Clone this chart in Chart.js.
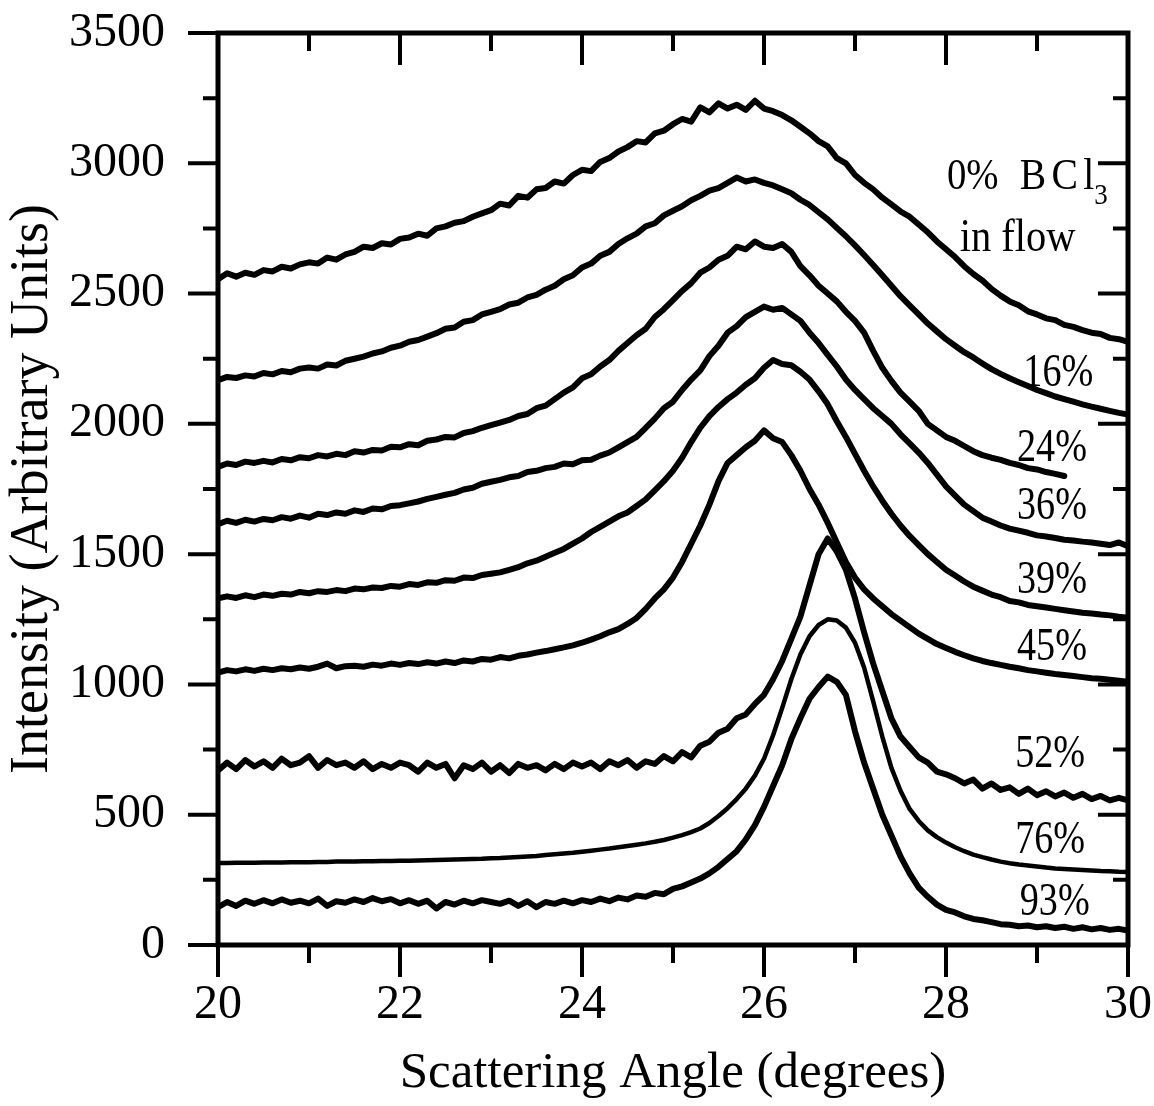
<!DOCTYPE html>
<html><head><meta charset="utf-8">
<script src="https://cdn.jsdelivr.net/npm/chart.js@4/dist/chart.umd.min.js"></script>
<style>html,body{margin:0;padding:0;background:#fff;}canvas{display:block;}</style>
</head><body>
<canvas id="c" width="1154" height="1106"></canvas>
<script>
const angles = [20.0,20.1,20.2,20.3,20.4,20.5,20.6,20.7,20.8,20.9,21.0,21.1,21.2,21.3,21.4,21.5,21.6,21.7,21.8,21.9,22.0,22.1,22.2,22.3,22.4,22.5,22.6,22.7,22.8,22.9,23.0,23.1,23.2,23.3,23.4,23.5,23.6,23.7,23.8,23.9,24.0,24.1,24.2,24.3,24.4,24.5,24.6,24.7,24.8,24.9,25.0,25.1,25.2,25.3,25.4,25.5,25.6,25.7,25.8,25.9,26.0,26.1,26.2,26.3,26.4,26.5,26.6,26.7,26.8,26.9,27.0,27.1,27.2,27.3,27.4,27.5,27.6,27.7,27.8,27.9,28.0,28.1,28.2,28.3,28.4,28.5,28.6,28.7,28.8,28.9,29.0,29.1,29.2,29.3,29.4,29.5,29.6,29.7,29.8,29.9,30.0];

const bcl0 = [2555,2578,2565,2580,2572,2590,2585,2603,2596,2612,2620,2615,2638,2630,2650,2660,2680,2675,2693,2688,2710,2715,2730,2722,2750,2758,2772,2778,2795,2808,2820,2845,2838,2875,2868,2900,2905,2930,2922,2955,2975,2970,3005,3020,3045,3062,3085,3080,3115,3125,3150,3170,3160,3215,3195,3230,3210,3225,3205,3240,3210,3200,3185,3165,3140,3115,3085,3065,3020,3000,2955,2925,2900,2868,2842,2815,2795,2765,2735,2700,2670,2640,2605,2575,2550,2518,2492,2470,2455,2432,2420,2405,2398,2380,2372,2360,2350,2345,2330,2325,2315];
const bcl16 = [2168,2180,2176,2186,2182,2195,2190,2203,2198,2212,2216,2212,2228,2224,2242,2250,2258,2270,2278,2292,2300,2315,2322,2335,2348,2365,2370,2392,2398,2420,2430,2440,2458,2465,2485,2495,2515,2530,2555,2570,2600,2615,2645,2660,2690,2712,2730,2758,2770,2800,2818,2835,2858,2875,2895,2905,2925,2945,2930,2938,2925,2915,2900,2885,2860,2840,2812,2785,2752,2720,2685,2648,2610,2570,2530,2490,2455,2420,2385,2355,2325,2300,2275,2255,2232,2210,2192,2175,2160,2145,2130,2118,2105,2095,2085,2075,2066,2058,2050,2042,2036];
const bcl24 = [1835,1848,1842,1855,1850,1858,1852,1865,1860,1872,1868,1880,1875,1885,1880,1895,1890,1900,1898,1912,1910,1922,1918,1935,1940,1950,1948,1965,1972,1985,1995,2005,2015,2030,2038,2060,2070,2095,2120,2140,2175,2190,2220,2245,2280,2310,2340,2365,2410,2440,2475,2510,2540,2580,2600,2630,2645,2680,2670,2700,2680,2675,2690,2660,2605,2570,2530,2500,2470,2430,2395,2350,2280,2215,2165,2120,2085,2050,2000,1975,1950,1935,1915,1895,1880,1870,1862,1850,1842,1830,1825,1815,1808,1800];
const bcl36 = [1615,1628,1620,1632,1625,1635,1630,1642,1636,1648,1640,1655,1650,1660,1655,1668,1662,1675,1672,1685,1688,1695,1702,1712,1720,1728,1735,1748,1755,1770,1778,1785,1795,1800,1815,1820,1830,1835,1848,1845,1860,1862,1878,1890,1910,1930,1950,1985,2020,2060,2085,2130,2170,2205,2260,2300,2350,2375,2410,2430,2450,2438,2445,2420,2395,2350,2310,2265,2220,2170,2130,2095,2060,2030,2000,1960,1925,1890,1850,1805,1760,1725,1690,1665,1640,1625,1610,1598,1590,1582,1572,1568,1562,1555,1552,1548,1545,1540,1535,1545,1530];
const bcl39 = [1330,1338,1332,1342,1335,1345,1340,1348,1345,1355,1350,1358,1355,1362,1358,1368,1365,1372,1370,1378,1375,1385,1382,1392,1390,1400,1398,1410,1408,1420,1425,1430,1440,1450,1465,1475,1490,1505,1520,1540,1560,1585,1605,1625,1645,1660,1685,1710,1745,1780,1820,1870,1930,1985,2030,2065,2095,2120,2150,2175,2215,2245,2230,2225,2200,2170,2125,2075,2010,1950,1885,1820,1760,1705,1655,1610,1570,1535,1500,1470,1440,1418,1395,1375,1360,1345,1335,1320,1315,1305,1300,1295,1290,1285,1280,1275,1272,1268,1265,1260,1256];
const bcl45 = [1045,1055,1050,1058,1052,1060,1055,1062,1058,1065,1060,1068,1080,1062,1070,1072,1068,1076,1072,1080,1075,1082,1078,1085,1080,1088,1082,1092,1088,1098,1095,1105,1100,1110,1115,1122,1128,1135,1142,1150,1160,1172,1185,1200,1212,1232,1255,1290,1330,1365,1410,1470,1540,1610,1690,1780,1850,1880,1910,1935,1975,1945,1930,1880,1820,1750,1690,1620,1545,1470,1410,1365,1330,1300,1270,1245,1220,1195,1175,1155,1140,1125,1112,1100,1090,1082,1075,1068,1062,1055,1050,1045,1040,1036,1032,1028,1024,1022,1018,1014,1010];
const bcl52 = [670,700,675,710,685,705,680,715,690,700,725,680,710,690,700,680,705,675,695,680,700,690,665,700,680,695,640,690,675,700,665,690,660,695,680,690,670,695,675,700,685,700,675,705,690,710,680,705,695,725,705,740,720,765,780,815,830,870,885,925,960,1020,1090,1175,1260,1380,1500,1560,1510,1440,1330,1200,1080,975,870,800,760,720,700,665,655,640,620,635,600,620,595,605,580,600,575,590,570,585,565,580,560,572,555,565,555];
const bcl76 = [315,315,316,316,316,317,317,317,318,318,318,319,319,320,320,320,321,321,322,322,323,323,324,325,326,327,328,329,330,331,333,334,336,338,340,342,345,348,351,354,358,362,366,370,375,380,385,390,396,403,412,422,433,447,468,495,525,560,600,650,715,805,910,1020,1115,1185,1228,1250,1245,1218,1160,1065,935,800,680,592,522,476,440,414,393,375,360,347,337,328,320,314,309,305,301,297,294,292,290,288,286,284,283,281,280];
const bcl93 = [145,165,150,170,158,172,160,175,162,170,160,178,150,168,162,175,165,180,168,176,160,172,158,170,140,165,155,170,160,172,165,158,170,150,168,145,165,158,170,160,172,165,178,168,182,175,190,185,200,195,215,225,240,255,275,300,330,360,405,460,530,610,690,790,870,945,990,1030,1010,960,820,700,600,500,420,340,275,220,185,155,135,125,110,100,95,88,80,78,72,75,68,72,65,70,62,68,60,65,58,62,55];

const seriesLabels = ['0% BCl3 in flow','16%','24%','36%','39%','45%','52%','76%','93%'];
const seriesValues = [bcl0,bcl16,bcl24,bcl36,bcl39,bcl45,bcl52,bcl76,bcl93];
const yTickLabels = [0,500,1000,1500,2000,2500,3000,3500];
const xTickLabels = [20,22,24,26,28,30];
const yTickMarks = [0,250,500,750,1000,1250,1500,1750,2000,2250,2500,2750,3000,3250,3500];
const xTickMarks = [20,21,22,23,24,25,26,27,28,29,30];

// curve annotations: [text, angle, intensity]
const annotations = [
  ['16%',28.85,2144],['24%',28.78,1856],['36%',28.78,1633],['39%',28.78,1352],
  ['45%',28.78,1095],['52%',28.76,684],['76%',28.76,353],['93%',28.81,115]
];

const FONT = "'Liberation Serif','Times New Roman',serif";

const framePlugin = {
  id:'frame',
  afterDatasetsDraw(chart){
    const {ctx, chartArea:a, scales:{x,y}} = chart;
    ctx.save();
    ctx.strokeStyle='#000';
    ctx.lineWidth=5;
    ctx.strokeRect(a.left,a.top,a.right-a.left,a.bottom-a.top);
    ctx.lineWidth=4;
    ctx.beginPath();
    yTickMarks.forEach(v=>{
      const py=y.getPixelForValue(v);
      const L = yTickLabels.includes(v)?30:15;
      ctx.moveTo(a.left-L,py); ctx.lineTo(a.left,py);
      ctx.moveTo(a.right,py); ctx.lineTo(a.right-L,py);
    });
    xTickMarks.forEach(v=>{
      const px=x.getPixelForValue(v);
      const L = xTickLabels.includes(v)?32:18;
      ctx.moveTo(px,a.bottom); ctx.lineTo(px,a.bottom+L);
      ctx.moveTo(px,a.top); ctx.lineTo(px,a.top+L);
    });
    ctx.stroke();
    ctx.restore();
  },
  afterDraw(chart){
    const {ctx, scales:{x,y}} = chart;
    ctx.save();
    ctx.fillStyle='#000';
    ctx.textBaseline='alphabetic';
    ctx.textAlign='left';
    const put=(t,ax,iv,size,sx,spacing)=>{
      ctx.save();
      ctx.translate(x.getPixelForValue(ax),y.getPixelForValue(iv));
      ctx.scale(sx,1);
      ctx.font=size+'px '+FONT;
      if(spacing) ctx.letterSpacing=spacing;
      ctx.fillText(t,0,0);
      ctx.restore();
    };
    put('0%',28.01,2901,44,0.88);
    put('BCl',28.81,2901,44,0.9,'6px');
    put('3',29.63,2843,30,0.9);
    put('in flow',28.15,2662,46,0.88);
    annotations.forEach(([t,ax,iv])=>put(t,ax,iv,46,0.83));
    ctx.restore();
  }
};

const noEdgePad = (s)=>{ s.paddingTop=0; s.paddingBottom=0; s.paddingLeft=0; s.paddingRight=0; };

new Chart(document.getElementById('c').getContext('2d'),{
  type:'line',
  data:{
    datasets: seriesValues.map((vals,i)=>({
      label: seriesLabels[i],
      data: vals.map((v,j)=>({x:angles[j],y:v})),
      borderColor:'#000',
      borderWidth: i===7?4.5:6,
      pointRadius:0,
      tension:0,
      borderJoinStyle:'round',
      borderCapStyle:'round',
      fill:false
    }))
  },
  options:{
    responsive:false,
    animation:false,
    devicePixelRatio:1,
    layout:{padding:{top:33,right:26,left:0,bottom:0}},
    plugins:{legend:{display:false},tooltip:{enabled:false}},
    scales:{
      x:{
        type:'linear',min:20,max:30,
        grid:{display:false,drawTicks:false},
        border:{display:false},
        ticks:{stepSize:2,color:'#000',font:{family:FONT,size:48},padding:32,z:1,autoSkip:false,maxRotation:0,
          callback:(v)=>xTickLabels.includes(v)?String(v):''},
        title:{display:true,text:'Scattering Angle (degrees)',color:'#000',font:{family:FONT,size:51},padding:{top:0,bottom:2}},
        afterFit:(s)=>{s.height=161; noEdgePad(s);}
      },
      y:{
        type:'linear',min:0,max:3500,
        grid:{display:false,drawTicks:false},
        border:{display:false},
        ticks:{stepSize:500,color:'#000',font:{family:FONT,size:48},padding:53,z:1,
          callback:(v)=>yTickLabels.includes(v)?String(v):''},
        title:{display:true,text:'Intensity (Arbitrary Units)',color:'#000',font:{family:FONT,size:54},padding:{top:0,bottom:0}},
        afterFit:(s)=>{s.width=218; noEdgePad(s);}
      }
    }
  },
  plugins:[framePlugin]
});
</script>
</body></html>
